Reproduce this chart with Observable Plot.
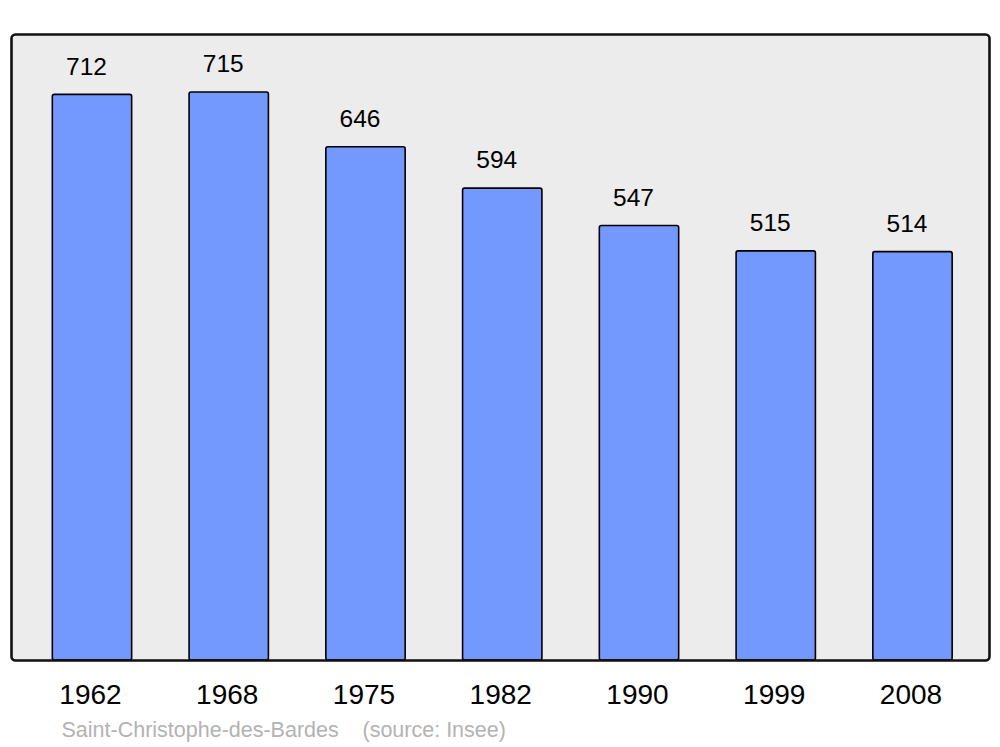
<!DOCTYPE html>
<html>
<head>
<meta charset="utf-8">
<script src="https://cdn.jsdelivr.net/npm/d3@7"></script>
<script src="https://cdn.jsdelivr.net/npm/@observablehq/plot@0.6"></script>
<style>
  html, body { margin: 0; padding: 0; background: #fff; }
</style>
</head>
<body>
<div id="chart"></div>
<script>
const years = ["1962", "1968", "1975", "1982", "1990", "1999", "2008"];
const population = [712, 715, 646, 594, 547, 515, 514];
const place = "Saint-Christophe-des-Bardes";
const source = "(source: Insee)";

const data = years.map((y, i) => ({year: y, value: population[i]}));

const chart = Plot.plot({
  width: 1000,
  height: 747,
  marginLeft: 11,
  marginRight: 11,
  marginTop: 34,
  marginBottom: 87,
  style: {fontFamily: "'Liberation Sans', Arial, sans-serif", background: "#fff"},
  x: {domain: years, range: [15, 989.5], paddingInner: 0.42, paddingOuter: 0.273, round: false, axis: null},
  y: {domain: [0, 788], axis: null},
  marks: [
    Plot.frame({fill: "#ececec", stroke: "none", rx: 4}),
    Plot.barY(data, {x: "year", y: "value", fill: "#7399ff", stroke: "#000", strokeWidth: 1.6, rx: 2}),
    Plot.frame({fill: "none", stroke: "#111", strokeWidth: 2.6, rx: 4}),
    Plot.text(data, {x: "year", y: "value", text: d => String(d.value), dy: -28, dx: -6, fontSize: 24.5, fill: "#000"}),
    Plot.text(data, {x: "year", text: "year", frameAnchor: "bottom", dy: 35, dx: -2, fontSize: 28, fill: "#000", lineAnchor: "middle"}),
    Plot.text([place], {text: d => d, frameAnchor: "bottom-left", dx: 50, dy: 70, textAnchor: "start", fontSize: 21.5, fill: "#b3b3b3", lineAnchor: "middle"}),
    Plot.text([source], {text: d => d, frameAnchor: "bottom-left", dx: 351, dy: 70, textAnchor: "start", fontSize: 21.5, fill: "#b3b3b3", lineAnchor: "middle"})
  ]
});
document.getElementById("chart").appendChild(chart);
</script>
</body>
</html>
